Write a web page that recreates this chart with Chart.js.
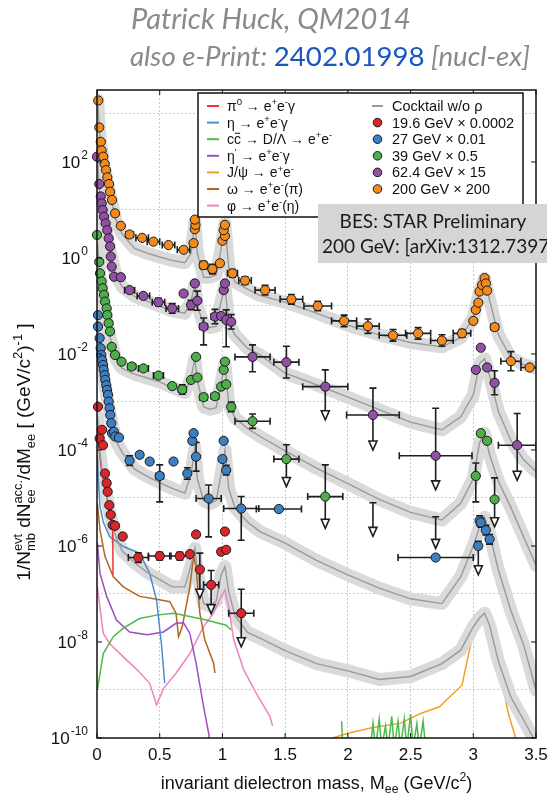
<!DOCTYPE html>
<html><head><meta charset="utf-8">
<script src="https://cdn.jsdelivr.net/npm/chart.js@4.4.1/dist/chart.umd.min.js"></script>
<style>
html,body{margin:0;padding:0;background:#fff;width:547px;height:795px;overflow:hidden;}
#wrap{position:relative;width:547px;height:795px;}
canvas{position:absolute;left:0;top:0;}
.hdr{position:absolute;white-space:nowrap;font-family:Lato,'Open Sans',sans-serif;font-style:italic;color:#8a8a8a;line-height:normal;}
.hdr .blue{color:#1a58c0;font-style:normal;}
</style></head><body>
<div id="wrap">
<canvas id="c" width="547" height="795"></canvas>
<div class="hdr" id="h1">Patrick Huck, QM2014</div>
<div class="hdr" id="h2">also e-Print: <span class="blue">2402.01998</span> [nucl-ex]</div>
</div>
<script>
// ---------------- axis / tick data ----------------
const X_TICKS = [0, 0.5, 1, 1.5, 2, 2.5, 3, 3.5];
const X_TICK_LABELS = ['0', '0.5', '1', '1.5', '2', '2.5', '3', '3.5'];
const Y_MIN = 1e-10, Y_MAX = 3162;
const Y_DECADES = [1e-10,1e-9,1e-8,1e-7,1e-6,1e-5,1e-4,1e-3,1e-2,1e-1,1,1e1,1e2,1e3];
const Y_LABEL_VALUES = [1e-10, 1e-8, 1e-6, 1e-4, 1e-2, 1, 1e2];
const Y_LABEL_EXP = ['-10', '-8', '-6', '-4', '-2', '0', '2'];

// ---------------- data series: 200 GeV x 200 (orange) ----------------
const o_M = [0.01,0.018,0.03,0.037,0.05,0.061,0.072,0.082,0.096,0.104,0.12,0.144,0.19,0.26,0.36,0.45,0.57,0.69,0.77,0.78,0.785,0.78,0.85,0.92,0.98,1.0,1.02,1.01,1.02,1.08,1.18,1.34,1.55,1.76,1.97,2.16,2.36,2.56,2.75,2.91,3.0,3.02,3.04,3.05,3.07,3.09,3.10,3.11,3.17,3.30,3.45];
const o_V = [1.91e3,5.25e2,2.63e2,1.74e2,1.29e2,9.12e1,6.76e1,4.79e1,3.47e1,2.40e1,1.62e1,8.51,4.68,3.09,2.63,2.19,1.86,1.48,2.04,3.98,4.90,6.31,7.08e-1,5.89e-1,7.76e-1,2.29,2.88,3.80,4.90,4.79e-1,3.39e-1,2.14e-1,1.38e-1,1.0e-1,4.90e-2,3.80e-2,2.45e-2,2.69e-2,1.91e-2,2.69e-2,4.90e-2,8.32e-2,1.17e-1,2.0e-1,2.75e-1,3.80e-1,2.95e-1,2.09e-1,3.63e-2,7.08e-3,5.25e-3];
const o_dM = [0,0,0,0,0,0,0,0,0,0,0,0,0,.03,.05,.05,.05,.05,0,0,0,0,.03,.03,0,0,0,0,0,.04,.05,.08,.09,.11,.10,.09,.11,.10,.09,.07,0,0,0,0,0,0,0,0,.03,.08,.07];
const o_dUp = [0,0,0,0,0,0,0,0,0,0,0,0,0,.03,.03,.03,.03,.05,0,0,0,0,.08,.1,.05,0,0,0,0,.08,.08,.1,.1,.1,.12,.15,.12,.12,.12,.08,.03,.03,.03,.03,.03,.03,.03,.03,.05,.2,0];
const o_dDn = o_dUp;
const o_UL = [];

// 62.4 GeV x 15 (purple)
const p_M = [0.0,0.018,0.03,0.037,0.045,0.056,0.069,0.082,0.093,0.104,0.11,0.117,0.136,0.19,0.26,0.37,0.49,0.60,0.69,0.75,0.78,0.80,0.85,0.94,0.99,1.01,1.02,1.03,1.07,1.24,1.51,1.82,2.20,2.70,3.02,3.06,3.11,3.17,3.35];
const p_V = [1.29e2,3.47e1,1.91e1,1.38e1,1.0e1,7.24,5.25,3.80,2.57,1.74,1.07,6.61e-1,4.07e-1,3.98e-1,2.14e-1,1.62e-1,1.20e-1,8.91e-2,1.82e-1,1.05e-1,2.95e-1,1.29e-1,3.72e-2,6.03e-2,6.17e-2,2.14e-1,2.95e-1,5.13e-2,4.68e-2,8.71e-3,6.76e-3,2.09e-3,5.37e-4,7.59e-5,4.68e-3,1.35e-2,5.25e-3,2.51e-3,1.26e-4];
const p_dM = [0,0,0,0,0,0,0,0,0,0,0,0,0,.02,.04,.05,.05,.05,0,0,0,0,.03,.03,0,0,0,0,0,.14,.1,.18,.21,.29,0,0,0,0,.15];
const p_dUp = [0,0,0,0,0,0,0,0,0,0,0,0,0,.03,.03,.03,.08,.1,0,.1,0,.2,.18,.15,0,0,0,.21,.15,.25,.33,.35,.56,.99,0,0,0,.25,.66];
const p_dDn = [0,0,0,0,0,0,0,0,0,0,0,0,0,.03,.03,.03,.08,.1,0,.1,0,.2,.38,.15,0,0,0,.56,.15,.31,.33,.69,.73,.71,0,0,0,.25,.73];
const p_UL = [0,0,0,0,0,0,0,0,0,0,0,0,0,0,0,0,0,0,0,0,0,0,0,0,0,0,0,0,0,0,0,1,1,1,0,0,0,0,1];

// 39 GeV x 0.5 (green)
const g_M = [0.0,0.018,0.024,0.037,0.045,0.056,0.064,0.077,0.082,0.093,0.104,0.117,0.144,0.196,0.277,0.37,0.49,0.60,0.68,0.75,0.79,0.80,0.85,0.94,0.99,1.01,1.02,1.03,1.07,1.24,1.51,1.82,2.20,2.70,3.02,3.06,3.11,3.17];
const g_V = [3.02,8.32e-1,4.79e-1,3.24e-1,2.34e-1,1.70e-1,1.23e-1,8.91e-2,6.46e-2,4.37e-2,2.95e-2,1.41e-2,9.55e-3,6.92e-3,5.50e-3,5.01e-3,3.55e-3,2.14e-3,1.82e-3,2.88e-3,8.71e-3,3.24e-3,1.26e-3,1.32e-3,2.09e-3,4.68e-3,6.92e-3,2.34e-3,7.94e-4,3.98e-4,6.46e-5,1.07e-5,3.55e-6,2.51e-6,2.88e-5,2.24e-4,1.55e-4,9.33e-6];
const g_dM = [0,0,0,0,0,0,0,0,0,0,0,0,0,0,.03,.04,.04,0,.03,0,0,0,.03,.03,0,0,0,0,0,.14,.1,.14,0,0,0,0,0,0];
const g_dUp = [0,0,0,0,0,0,0,0,0,0,0,0,0,0,.03,.03,.05,.05,.1,0,0,0,.05,.05,0,0,0,0,.1,.15,.3,.66,.35,.21,.27,0,0,.45];
const g_dDn = [0,0,0,0,0,0,0,0,0,0,0,0,0,0,.03,.03,.05,.05,.1,0,0,0,.05,.05,0,0,0,0,.1,.15,.57,.66,.35,.45,.54,0,0,.57];
const g_UL = [0,0,0,0,0,0,0,0,0,0,0,0,0,0,0,0,0,0,0,0,0,0,0,0,0,0,0,0,0,0,1,1,1,1,0,0,0,1];
const g_HIDDEN = [32, 33];

// 27 GeV x 0.01 (blue)
const b_M = [0.008,0.008,0.021,0.029,0.034,0.040,0.048,0.053,0.061,0.066,0.074,0.080,0.088,0.093,0.101,0.106,0.114,0.120,0.135,0.145,0.175,0.26,0.34,0.42,0.50,0.61,0.72,0.76,0.77,0.79,0.89,1.0,1.01,1.03,1.15,1.45,2.70,3.04,3.05,3.06,3.10,3.13];
const b_V = [6.46e-2,3.72e-2,2.14e-2,1.32e-2,9.55e-3,7.41e-3,5.89e-3,4.68e-3,3.63e-3,2.88e-3,2.24e-3,1.78e-3,1.41e-3,1.02e-3,7.41e-4,5.37e-4,3.63e-4,2.24e-4,2.40e-4,1.91e-4,1.82e-4,6.03e-5,7.94e-5,5.75e-5,2.88e-5,5.75e-5,3.24e-5,1.55e-4,2.24e-4,7.24e-5,9.77e-6,6.46e-5,1.55e-4,3.80e-5,6.03e-6,5.89e-6,5.75e-7,1.0e-6,3.39e-6,3.09e-6,2.14e-6,1.38e-6];
const b_dM = [0,0,0,0,0,0,0,0,0,0,0,0,0,0,0,0,0,0,0,0,0,.02,.02,.02,.03,.02,.02,0,0,0,.1,0,0,0,.14,.18,.3,0,0,0,0,0];
const b_dUp = [0,0,0,0,0,0,0,0,0,0,0,0,0,0,0,0,0,0,0,0,0,.1,.05,.05,.23,.05,.12,0,0,.3,.28,0,0,.1,.25,.05,.05,.1,.1,.1,.1,.1];
const b_dDn = [0,0,0,0,0,0,0,0,0,0,0,0,0,0,0,0,0,0,0,0,0,.1,.05,.05,.54,.05,.12,0,0,.3,.8,0,0,.1,.66,.05,.05,.6,.1,.1,.1,.1];
const b_UL = [0,0,0,0,0,0,0,0,0,0,0,0,0,0,0,0,0,0,0,0,0,0,0,0,0,0,0,0,0,0,0,0,0,0,0,0,0,1,0,0,0,0];

// 19.6 GeV x 0.0002 (red)
const r_M = [0.008,0.040,0.021,0.048,0.064,0.077,0.085,0.098,0.109,0.125,0.144,0.205,0.33,0.50,0.66,0.74,0.79,0.82,0.91,0.99,1.02,1.03,1.15];
const r_V = [7.94e-4,2.63e-4,1.74e-4,1.26e-4,3.24e-5,2.04e-5,1.35e-5,7.08e-6,4.47e-6,2.75e-6,2.63e-6,1.58e-6,5.75e-7,6.17e-7,6.17e-7,6.76e-7,1.74e-6,3.24e-7,1.55e-7,7.59e-7,2.0e-6,8.32e-7,3.98e-8];
const r_dM = [0,0,0,0,0,0,0,0,0,0,0,.02,.08,.09,.08,.02,0,0,.06,0,0,0,.1];
const r_dUp = [0,0,0,0,0,0,0,0,0,0,0,0,.1,.08,.08,.05,0,.34,.3,.05,0,.05,.5];
const r_dDn = [0,0,0,0,0,0,0,0,0,0,0,0,.1,.08,.08,.05,0,.6,.6,.05,0,.05,.7];
const r_UL = [0,0,0,0,0,0,0,0,0,0,0,0,0,0,0,0,0,1,1,0,0,0,1];

// ---------------- cocktail sums (w/o rho) ----------------
const COCKTAIL_M = [0.005,0.02,0.05,0.1,0.15,0.2,0.3,0.4,0.5,0.6,0.7,0.75,0.78,0.8,0.85,0.9,0.95,0.99,1.02,1.05,1.1,1.2,1.3,1.5,1.75,2.0,2.25,2.5,2.75,2.9,3.0,3.05,3.09,3.13,3.2,3.3,3.4,3.5];
const ck200 = [2.0e3,3.98e2,1.0e2,2.24e1,6.31,3.16,1.58,1.26,1.05,8.91e-1,7.94e-1,1.26,5.62,1.26,3.98e-1,3.98e-1,4.47e-1,1.58,5.25,6.31e-1,3.16e-1,2.24e-1,1.66e-1,1.20e-1,7.08e-2,3.98e-2,2.51e-2,1.74e-2,1.41e-2,2.19e-2,5.62e-2,2.0e-1,3.80e-1,1.32e-1,2.51e-2,8.32e-3,6.03e-3,5.01e-3];
const ck62 = [1.0e2,2.51e1,7.08,1.58,4.47e-1,2.51e-1,1.58e-1,1.26e-1,1.0e-1,7.94e-2,7.08e-2,1.26e-1,2.82e-1,1.0e-1,4.17e-2,3.55e-2,3.80e-2,1.26e-1,2.51e-1,4.47e-2,2.51e-2,1.32e-2,9.55e-3,3.98e-3,2.29e-3,1.26e-3,6.92e-4,3.80e-4,2.63e-4,4.90e-4,1.41e-3,6.31e-3,7.94e-3,3.55e-3,6.31e-4,1.58e-4,6.31e-5,3.55e-5];
const ck39 = [2.0,5.01e-1,1.41e-1,2.51e-2,7.94e-3,5.01e-3,3.80e-3,3.16e-3,2.63e-3,2.0e-3,1.58e-3,3.16e-3,7.94e-3,2.82e-3,7.94e-4,7.08e-4,7.59e-4,2.51e-3,6.31e-3,8.91e-4,4.68e-4,2.82e-4,1.91e-4,9.55e-5,4.17e-5,2.0e-5,9.33e-6,5.01e-6,3.47e-6,7.76e-6,2.51e-5,1.41e-4,2.24e-4,7.94e-5,2.24e-5,6.31e-6,1.58e-6,3.98e-7];
const ck27 = [5.01e-2,1.41e-2,3.55e-3,6.31e-4,1.58e-4,8.91e-5,3.98e-5,2.82e-5,2.09e-5,1.58e-5,1.26e-5,3.16e-5,1.12e-4,2.51e-5,8.91e-6,7.59e-6,8.91e-6,3.16e-5,1.0e-4,1.58e-5,6.31e-6,3.16e-6,2.0e-6,1.15e-6,5.01e-7,2.51e-7,1.32e-7,7.94e-8,6.31e-8,2.29e-7,1.0e-6,2.51e-6,3.98e-6,1.78e-6,3.16e-7,4.47e-8,8.91e-9,1.0e-9];
const ck19 = [5.01e-4,1.0e-4,2.51e-5,5.01e-6,1.58e-6,7.94e-7,4.47e-7,2.82e-7,2.0e-7,1.41e-7,1.41e-7,3.98e-7,8.91e-7,2.82e-7,6.31e-8,5.62e-8,7.08e-8,2.51e-7,3.72e-7,1.12e-7,3.55e-8,1.58e-8,1.20e-8,6.61e-9,3.55e-9,2.51e-9,1.66e-9,1.91e-9,3.55e-9,6.76e-9,2.09e-8,3.16e-8,3.98e-8,2.24e-8,3.98e-9,7.08e-10,2.40e-10,7.94e-11];

// ---------------- cocktail components (19.6 GeV scale) [mass, value] ----------------
const pi0Curve = [[0.005,2.0e-4],[0.03,5.01e-5],[0.06,1.58e-5],[0.09,7.94e-6],[0.115,3.98e-6],[0.125,2.51e-6],[0.128,2.51e-7]];
const etaCurve = [[0.003,7.24e-5],[0.01,2.51e-5],[0.024,6.61e-6],[0.05,3.16e-6],[0.1,1.58e-6],[0.21,9.77e-7],[0.34,7.08e-7],[0.42,2.69e-7],[0.475,7.41e-8],[0.516,7.94e-9],[0.54,1.38e-9]];
const ccCurve = [[0.003,1.0e-9],[0.05,5.75e-9],[0.13,1.29e-8],[0.21,1.95e-8],[0.34,3.09e-8],[0.475,3.63e-8],[0.61,3.98e-8],[0.74,3.39e-8],[0.87,2.88e-8],[1.03,2.24e-8],[1.07,1.78e-8],[1.5,null],[1.95,2.24e-10],[1.96,6.31e-11],[2.18,6.31e-11],[2.2,2.0e-10],[2.22,6.31e-11],[2.25,2.51e-10],[2.27,6.31e-11],[2.3,1.78e-10],[2.32,6.31e-11],[2.35,2.82e-10],[2.37,6.31e-11],[2.4,2.24e-10],[2.42,6.31e-11],[2.45,2.51e-10],[2.47,6.31e-11],[2.5,3.16e-10],[2.52,6.31e-11],[2.55,2.0e-10],[2.57,6.31e-11],[2.6,2.24e-10],[2.62,6.31e-11]];
const etapCurve = [[0.003,1.15e-6],[0.024,2.69e-7],[0.077,8.91e-8],[0.155,2.88e-8],[0.26,1.62e-8],[0.40,1.41e-8],[0.53,1.62e-8],[0.63,2.45e-8],[0.69,2.51e-8],[0.74,1.51e-8],[0.79,3.63e-9],[0.85,4.47e-10],[0.89,1.26e-10],[0.91,5.01e-11]];
const jpsiCurve = [[1.85,7.94e-11],[1.88,1.0e-10],[2.0,1.26e-10],[2.2,1.66e-10],[2.42,2.04e-10],[2.58,3.24e-10],[2.73,4.47e-10],[2.91,1.26e-9],[3.0,1.6e-8],[3.05,3.0e-8],[3.09,3.9e-8],[3.13,2.1e-8],[3.2,3.5e-9],[3.28,3.2e-10],[3.35,7.94e-11]];
const omegaCurve = [[0.003,7.76e-6],[0.024,2.14e-6],[0.064,6.03e-7],[0.13,2.29e-7],[0.21,1.41e-7],[0.34,8.91e-8],[0.475,7.76e-8],[0.58,6.92e-8],[0.63,3.98e-8],[0.65,1.29e-8],[0.68,2.09e-8],[0.74,1.41e-7],[0.77,6.03e-7],[0.79,3.72e-7],[0.82,3.98e-8],[0.86,1.10e-8],[0.93,3.63e-9],[0.94,2.24e-9]];
const phiCurve = [[0.003,1.41e-7],[0.05,1.51e-8],[0.10,9.33e-9],[0.21,4.90e-9],[0.32,2.63e-9],[0.42,1.38e-9],[0.475,4.90e-10],[0.53,1.07e-9],[0.63,2.24e-9],[0.74,5.75e-9],[0.85,2.09e-8],[0.93,3.98e-8],[0.99,8.91e-8],[1.02,1.20e-7],[1.05,5.50e-8],[1.09,1.10e-8],[1.17,2.63e-9],[1.27,8.51e-10],[1.38,2.75e-10],[1.40,1.78e-10]];

// ---------------- legend labels ----------------
const LEGEND_RIGHT = ['Cocktail w/o \u03C1', '19.6 GeV \u00D7 0.0002', '27 GeV \u00D7 0.01', '39 GeV \u00D7 0.5', '62.4 GeV \u00D7 15', '200 GeV \u00D7 200'];
const BES_LINES = ['BES: STAR Preliminary', '200 GeV: [arXiv:1312.7397]'];

// ---------------- styles ----------------
const COL = {
  red:'#d9262b', blue:'#3c7fc2', green:'#4dae4a', purple:'#924fa6', orange:'#f28b1c',
  cRed:'#e8343a', cBlue:'#4a90d0', cGreen:'#4cba48', cPurple:'#9a4fc0', cOrange:'#f5a023', cBrown:'#b4651f', cPink:'#f282c0',
  band:'#dadada', ckLine:'#9a9a9a'
};
const FONT = '"Liberation Sans", Arial, Helvetica, sans-serif';

function pts(M, V){ return M.map((m,i)=>({x:m, y:V[i]})); }
function pairPts(arr){ return arr.map(p=>({x:p[0], y:p[1]})); }

const datasets = [];
function addSeries(label, M, V, dM, dUp, dDn, UL, color, hidden){
  const radius = M.map((_,i)=> (hidden && hidden.includes(i)) ? 0 : 4.6);
  datasets.push({type:'scatter', label, data:pts(M,V), backgroundColor:color, borderColor:'#1b1b1b', pointBorderWidth:1,
    pointRadius:radius, pointHoverRadius:radius, showLine:false, clip:false, order:0,
    err:{dM, dUp, dDn, UL}});
}
addSeries('200 GeV', o_M, o_V, o_dM, o_dUp, o_dDn, o_UL, COL.orange);
addSeries('62.4 GeV', p_M, p_V, p_dM, p_dUp, p_dDn, p_UL, COL.purple);
addSeries('39 GeV', g_M, g_V, g_dM, g_dUp, g_dDn, g_UL, COL.green, g_HIDDEN);
addSeries('27 GeV', b_M, b_V, b_dM, b_dUp, b_dDn, b_UL, COL.blue);
addSeries('19.6 GeV', r_M, r_V, r_dM, r_dUp, r_dDn, r_UL, COL.red);

[ck200, ck62, ck39, ck27, ck19].forEach(ck=>{
  datasets.push({type:'line', data:pts(COCKTAIL_M, ck), borderColor:COL.ckLine, borderWidth:1.4, pointRadius:0, tension:0, fill:false, order:2});
  datasets.push({type:'line', data:pts(COCKTAIL_M, ck), borderColor:COL.band, borderWidth:13, borderJoinStyle:'round', borderCapStyle:'round', pointRadius:0, tension:0, fill:false, order:4});
});
[[pi0Curve,COL.cRed,3],[etaCurve,COL.cBlue,3],[ccCurve,COL.cGreen,3],[etapCurve,COL.cPurple,3],[jpsiCurve,COL.cOrange,5],[omegaCurve,COL.cBrown,3],[phiCurve,COL.cPink,3]].forEach(([c,col,ord])=>{
  datasets.push({type:'line', data:pairPts(c), borderColor:col, borderWidth:1.5, pointRadius:0, tension:0, fill:false, spanGaps:false, order:ord});
});

// ---------------- rich text helper ----------------
function rich(ctx, segs, x, y, size, fam, draw){
  let cx = x;
  const sm = size*0.68;
  for (const s of segs){
    const t = s[0], k = s[1];
    if (k==='n' || k==='bar'){
      ctx.font = size+'px '+fam;
      const w = ctx.measureText(t).width;
      if (draw){ ctx.fillText(t, cx, y);
        if (k==='bar'){ ctx.fillRect(cx+w*0.12, y-size*0.82, w*0.76, Math.max(1,size*0.07)); } }
      cx += w;
    } else if (k==='sup' || k==='sub'){
      ctx.font = sm+'px '+fam;
      const w = ctx.measureText(t).width;
      if (draw) ctx.fillText(t, cx, k==='sup' ? y-size*0.42 : y+size*0.24);
      cx += w;
    } else if (k==='ss'){
      ctx.font = sm+'px '+fam;
      const w1 = ctx.measureText(t[0]).width, w2 = ctx.measureText(t[1]).width;
      if (draw){ ctx.fillText(t[0], cx, y-size*0.42); ctx.fillText(t[1], cx, y+size*0.24); }
      cx += Math.max(w1,w2);
    }
  }
  return cx - x;
}

const LEGEND_LEFT = [
  [['\u03C0','n'],['0','sup'],[' \u2192 e','n'],['+','sup'],['e','n'],['-','sup'],['\u03B3','n']],
  [['\u03B7 \u2192 e','n'],['+','sup'],['e','n'],['-','sup'],['\u03B3','n']],
  [['c','n'],['c','bar'],[' \u2192 D/\u039B \u2192 e','n'],['+','sup'],['e','n'],['-','sup']],
  [['\u03B7','n'],["'",'sup'],[' \u2192 e','n'],['+','sup'],['e','n'],['-','sup'],['\u03B3','n']],
  [['J/\u03C8 \u2192 e','n'],['+','sup'],['e','n'],['-','sup']],
  [['\u03C9 \u2192 e','n'],['+','sup'],['e','n'],['-','sup'],['(\u03C0)','n']],
  [['\u03C6 \u2192 e','n'],['+','sup'],['e','n'],['-','sup'],['(\u03B7)','n']]
];
const LEGEND_LEFT_COLORS = [COL.cRed, COL.cBlue, COL.cGreen, COL.cPurple, COL.cOrange, COL.cBrown, COL.cPink];
const LEGEND_RIGHT_COLORS = [null, COL.red, COL.blue, COL.green, COL.purple, COL.orange];

const Y_TITLE = [['1/N','n'],[['evt','mb'],'ss'],[' dN','n'],[['acc.','ee'],'ss'],['/dM','n'],['ee','sub'],[' [ (GeV/c','n'],['2','sup'],[')','n'],['-1','sup'],[' ]','n']];
const X_TITLE = [['invariant dielectron mass, M','n'],['ee','sub'],[' (GeV/c','n'],['2','sup'],[')','n']];

// ---------------- plugins ----------------
const errPlugin = {
  id:'errbars',
  beforeDatasetDraw(chart, args){
    const ds = chart.data.datasets[args.index];
    if (!ds.err) return;
    const ctx = chart.ctx, a = chart.chartArea, xs = chart.scales.x, ys = chart.scales.y, e = ds.err;
    ctx.save();
    ctx.beginPath(); ctx.rect(a.left-6, a.top, a.right-a.left+6, a.bottom-a.top); ctx.clip();
    ctx.strokeStyle = '#1e1e1e'; ctx.lineWidth = 1.6; ctx.fillStyle = '#fff';
    ds.data.forEach((p,i)=>{
      const px = xs.getPixelForValue(p.x), py = ys.getPixelForValue(p.y);
      const dm = e.dM[i]||0, du = e.dUp[i]||0, dd = e.dDn[i]||0, ul = e.UL[i]||0;
      ctx.beginPath();
      if (dm>0){
        const x1 = xs.getPixelForValue(p.x-dm), x2 = xs.getPixelForValue(p.x+dm);
        ctx.moveTo(x1,py); ctx.lineTo(x2,py);
        ctx.moveTo(x1,py-3.5); ctx.lineTo(x1,py+3.5);
        ctx.moveTo(x2,py-3.5); ctx.lineTo(x2,py+3.5);
      }
      let y2 = null;
      if (du>0 || dd>0){
        const y1 = ys.getPixelForValue(p.y*Math.pow(10,du));
        y2 = ys.getPixelForValue(p.y/Math.pow(10,dd));
        ctx.moveTo(px,y1); ctx.lineTo(px,ul ? y2-8 : y2);
        ctx.moveTo(px-3.5,y1); ctx.lineTo(px+3.5,y1);
        if (!ul){ ctx.moveTo(px-3.5,y2); ctx.lineTo(px+3.5,y2); }
      }
      ctx.stroke();
      if (ul && y2!==null){
        ctx.beginPath(); ctx.moveTo(px-4,y2-9); ctx.lineTo(px+4,y2-9); ctx.lineTo(px,y2); ctx.closePath();
        ctx.fill(); ctx.stroke();
      }
    });
    ctx.restore();
  }
};

const decorPlugin = {
  id:'decor',
  afterDraw(chart){
    const ctx = chart.ctx, a = chart.chartArea, xs = chart.scales.x, ys = chart.scales.y;
    ctx.save();
    ctx.strokeStyle = '#111'; ctx.lineWidth = 1.5;
    ctx.strokeRect(a.left, a.top, a.right-a.left, a.bottom-a.top);
    ctx.beginPath(); ctx.lineWidth = 1;
    X_TICKS.forEach(v=>{ const px = xs.getPixelForValue(v);
      ctx.moveTo(px,a.bottom); ctx.lineTo(px,a.bottom-5); ctx.moveTo(px,a.top); ctx.lineTo(px,a.top+5); });
    Y_LABEL_VALUES.forEach(v=>{ const py = ys.getPixelForValue(v);
      ctx.moveTo(a.left,py); ctx.lineTo(a.left+5,py); ctx.moveTo(a.right,py); ctx.lineTo(a.right-5,py); });
    ctx.stroke();
    ctx.fillStyle = '#111'; ctx.textBaseline = 'alphabetic';
    ctx.textAlign = 'center'; ctx.font = '17px '+FONT;
    X_TICKS.forEach((v,i)=>{ ctx.fillText(X_TICK_LABELS[i], xs.getPixelForValue(v), 760); });
    ctx.textAlign = 'left';
    Y_LABEL_VALUES.forEach((v,i)=>{
      const py = ys.getPixelForValue(v);
      ctx.font = '17px '+FONT; const w10 = ctx.measureText('10').width;
      ctx.font = '12px '+FONT; const we = ctx.measureText(Y_LABEL_EXP[i]).width;
      const x0 = 88 - w10 - we - 1;
      ctx.font = '17px '+FONT; ctx.fillText('10', x0, py+6);
      ctx.font = '12px '+FONT; ctx.fillText(Y_LABEL_EXP[i], x0+w10+1, py-3);
    });
    const xw = rich(ctx, X_TITLE, 0, 0, 18, FONT, false);
    rich(ctx, X_TITLE, (a.left+a.right)/2 - xw/2, 789, 18, FONT, true);
    ctx.save();
    ctx.translate(24, 452); ctx.rotate(-Math.PI/2);
    const yw = rich(ctx, Y_TITLE, 0, 0, 19, FONT, false);
    rich(ctx, Y_TITLE, -yw/2, 6, 19, FONT, true);
    ctx.restore();
    // legend
    ctx.fillStyle = '#fff'; ctx.fillRect(198, 93, 325, 124);
    ctx.strokeStyle = '#111'; ctx.lineWidth = 1.5; ctx.strokeRect(198, 93, 325, 124);
    LEGEND_LEFT.forEach((segs,i)=>{
      const y = 106 + i*16.6;
      ctx.strokeStyle = LEGEND_LEFT_COLORS[i]; ctx.lineWidth = 2;
      ctx.beginPath(); ctx.moveTo(207,y); ctx.lineTo(219,y); ctx.stroke();
      ctx.fillStyle = '#111';
      rich(ctx, segs, 227, y+5, 14, FONT, true);
    });
    LEGEND_RIGHT.forEach((t,i)=>{
      const y = 106 + i*16.6;
      if (i===0){ ctx.strokeStyle = COL.ckLine; ctx.lineWidth = 2; ctx.beginPath(); ctx.moveTo(372,y); ctx.lineTo(383,y); ctx.stroke(); }
      else { ctx.beginPath(); ctx.arc(377.5, y, 4.3, 0, Math.PI*2); ctx.fillStyle = LEGEND_RIGHT_COLORS[i]; ctx.fill(); ctx.strokeStyle='#1b1b1b'; ctx.lineWidth=1; ctx.stroke(); }
      ctx.fillStyle = '#111'; ctx.font = '14.5px '+FONT; ctx.fillText(t, 392, y+5);
    });
    // BES box
    ctx.fillStyle = '#d5d5d5'; ctx.fillRect(318, 204, 229, 59);
    ctx.fillStyle = '#1a1a1a';
    ctx.font = '19px Lato, "Open Sans", sans-serif';
    ctx.textAlign = 'center'; ctx.fillText(BES_LINES[0], 433, 228);
    ctx.textAlign = 'left'; ctx.fillText(BES_LINES[1], 322, 253);
    ctx.restore();
  }
};

new Chart(document.getElementById('c'), {
  type:'scatter',
  data:{datasets},
  options:{
    responsive:false, animation:false, devicePixelRatio:1,
    layout:{padding:{top:90, right:11, left:0, bottom:0}},
    plugins:{legend:{display:false}, tooltip:{enabled:false}},
    scales:{
      x:{type:'linear', min:0, max:3.5,
        ticks:{display:false},
        afterBuildTicks(s){ s.ticks = X_TICKS.map(v=>({value:v})); },
        grid:{drawTicks:false, lineWidth:1, color:(c)=> (c.tick && c.tick.value>0 && c.tick.value<3.5) ? '#c9c9c9' : 'rgba(0,0,0,0)'},
        border:{display:false, dash:[2,2]},
        afterFit(s){ s.height = 57; }},
      y:{type:'logarithmic', min:Y_MIN, max:Y_MAX,
        ticks:{display:false},
        afterBuildTicks(s){ s.ticks = Y_DECADES.map(v=>({value:v})); },
        grid:{drawTicks:false, lineWidth:1, color:(c)=>{ if(!c.tick) return 'rgba(0,0,0,0)'; const ex = Math.round(Math.log10(c.tick.value)); return (Math.abs(ex)%2===1) ? '#c9c9c9' : 'rgba(0,0,0,0)'; }},
        border:{display:false, dash:[2,2]},
        afterFit(s){ s.width = 97; }}
    }
  },
  plugins:[errPlugin, decorPlugin]
});

function fitHeader(id, targetW, left, centerY){
  const el = document.getElementById(id);
  el.style.fontSize = '24px';
  const w = el.getBoundingClientRect().width;
  const f = 24*targetW/w;
  el.style.fontSize = f+'px';
  el.style.left = left+'px';
  el.style.top = (centerY - f*0.63)+'px';
}
fitHeader('h1', 280, 131, 18);
fitHeader('h2', 400, 130, 56);
</script>
</body></html>
